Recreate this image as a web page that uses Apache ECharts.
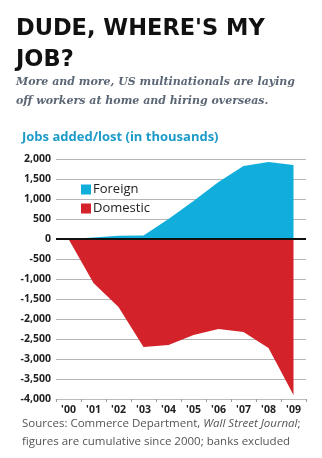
<!DOCTYPE html>
<html>
<head>
<meta charset="utf-8">
<script src="https://cdn.jsdelivr.net/npm/echarts@6/dist/echarts.min.js"></script>
<style>
html,body{margin:0;padding:0;background:#fff;}
#c{width:322px;height:458px;}
</style>
</head>
<body>
<div id="c"></div>
<script>
const years = ["'00","'01","'02","'03","'04","'05","'06","'07","'08","'09"];
const foreign = [0, 40, 80, 90, 500, 950, 1425, 1825, 1925, 1850];
const domestic = [0, -1100, -1700, -2700, -2650, -2400, -2250, -2325, -2725, -3900];
const yTicks = [2000, 1500, 1000, 500, 0, -500, -1000, -1500, -2000, -2500, -3000, -3500, -4000];

const chart = echarts.init(document.getElementById('c'), null, {renderer: 'canvas'});
const fmt = v => (v < 0 ? '-' : '') + Math.abs(v).toLocaleString('en-US');

chart.setOption({
  animation: false,
  backgroundColor: '#fff',
  title: [
    {text: "DUDE, WHERE'S MY\nJOB?", left: 16, top: 14, padding: 0,
     textStyle: {fontFamily: 'DejaVu Sans', fontWeight: 'bold', fontSize: 22.5, color: '#111', lineHeight: 31}},
    {text: 'More and more, US multinationals are laying\noff workers at home and hiring overseas.', left: 16, top: 73, padding: 0,
     textStyle: {fontFamily: 'DejaVu Serif', fontStyle: 'italic', fontWeight: 'bold', fontSize: 11, color: '#5b6675', lineHeight: 19}},
    {text: 'Jobs added/lost (in thousands)', left: 22, top: 131, padding: 0,
     textStyle: {fontFamily: 'Open Sans', fontWeight: 'bold', fontSize: 13, color: '#1d9bc8'}},
    {text: '{a|Sources: Commerce Department, }{b|Wall Street Journal}{a|;}\n{a|figures are cumulative since 2000; banks excluded}', left: 22, top: 415, padding: 0,
     textStyle: {fontWeight: 'normal', rich: {
       a: {fontFamily: 'Open Sans', fontWeight: 'normal', fontSize: 11.5, color: '#555', lineHeight: 18},
       b: {fontFamily: 'Open Sans', fontWeight: 'normal', fontStyle: 'italic', fontSize: 11.5, color: '#555', lineHeight: 18}
     }}}
  ],
  legend: {
    orient: 'vertical', left: 81, top: 183, padding: 0, itemWidth: 10, itemHeight: 10, itemGap: 6,
    icon: 'rect', selectedMode: false,
    textStyle: {fontFamily: 'Open Sans', fontSize: 13, color: '#222', padding: [0, 0, 0, -3]},
    data: ['Foreign', 'Domestic']
  },
  grid: {left: 56, right: 16, top: 159, bottom: 59},
  xAxis: {
    type: 'category', data: years, boundaryGap: true,
    axisLine: {onZero: false, lineStyle: {color: '#bbb', width: 1}},
    axisTick: {show: true, length: 3, lineStyle: {color: '#999'}},
    axisLabel: {fontFamily: 'Open Sans', fontWeight: 'bold', fontSize: 10.5, color: '#222', margin: 6}
  },
  yAxis: {
    type: 'value', min: -4000, max: 2000, interval: 500,
    axisLine: {show: false}, axisTick: {show: false},
    splitLine: {lineStyle: {color: '#b5b5b5', width: 1}},
    axisLabel: {fontFamily: 'Open Sans', fontWeight: 'bold', fontSize: 10.5, color: '#222', margin: 5,
      formatter: v => yTicks.includes(v) ? fmt(v) : ''}
  },
  series: [
    {name: 'Foreign', type: 'line', data: foreign, symbol: 'none',
     color: '#12aedb',
     lineStyle: {width: 0}, areaStyle: {color: '#12aedb', opacity: 1}},
    {name: 'Domestic', type: 'line', data: domestic, symbol: 'none',
     color: '#d3222a',
     lineStyle: {width: 0}, areaStyle: {color: '#d3222a', opacity: 1},
     markLine: {silent: true, symbol: 'none', label: {show: false},
       lineStyle: {color: '#111', width: 2, type: 'solid'},
       data: [{yAxis: 0}]}}
  ]
});
</script>
</body>
</html>
